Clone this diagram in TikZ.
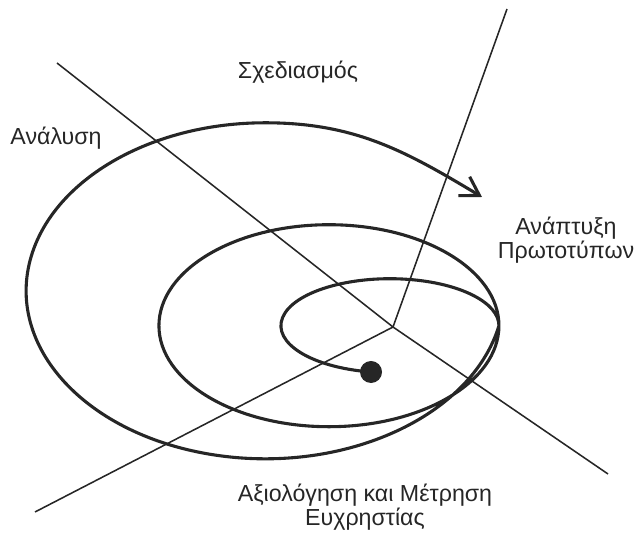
\documentclass[tikz,border=0pt]{standalone}
\usepackage{fontspec}
\setmainfont{Liberation Sans}
\usetikzlibrary{arrows.meta}

\begin{document}
\begin{tikzpicture}[
    x=0.025cm, y=0.025cm,
    phase/.style={font=\fontsize{16.5}{17.5}\selectfont, align=center, inner sep=0pt, text=black!85},
    axis/.style={line width=1.1pt, black!85},
    spiral/.style={line width=2.2pt, black!85},
    arr/.style={-{Straight Barb[length=4.5mm,width=5.5mm]}}
  ]
    \useasboundingbox (0,0) rectangle (637,-536);
    \coordinate (c) at (393,-327);
    \coordinate (nw) at (57,-63);
    \coordinate (se) at (608,-474);
    \coordinate (sw) at (35,-512);
    \coordinate (ne) at (507,-9);
    \draw[axis] (nw) -- (c) -- (se);
    \draw[axis] (sw) -- (c) -- (ne);
    \node[circle, fill=black!85, minimum size=0.55cm, inner sep=0pt] (start) at (371,-372) {};
    \coordinate (tip) at (482,-197);
    \draw[spiral, arr] (start.center)
      arc[start angle=260, end angle=0, x radius=109, y radius=47]
      arc[start angle=0, end angle=-360, x radius=170, y radius=101]
      arc[start angle=-12, end angle=-270, x radius=239, y radius=168]
      to[out=0, in=149] (tip);
    \node[phase] (design) at (298,-72) {Σχεδιασμός};
    \node[phase] (analysis) at (56,-138) {Ανάλυση};
    \node[phase] (proto) at (566,-240) {Ανάπτυξη\\Πρωτοτύπων};
    \node[phase] (eval) at (365,-507) {Αξιολόγηση και Μέτρηση\\Ευχρηστίας};
  \end{tikzpicture}
\end{document}
